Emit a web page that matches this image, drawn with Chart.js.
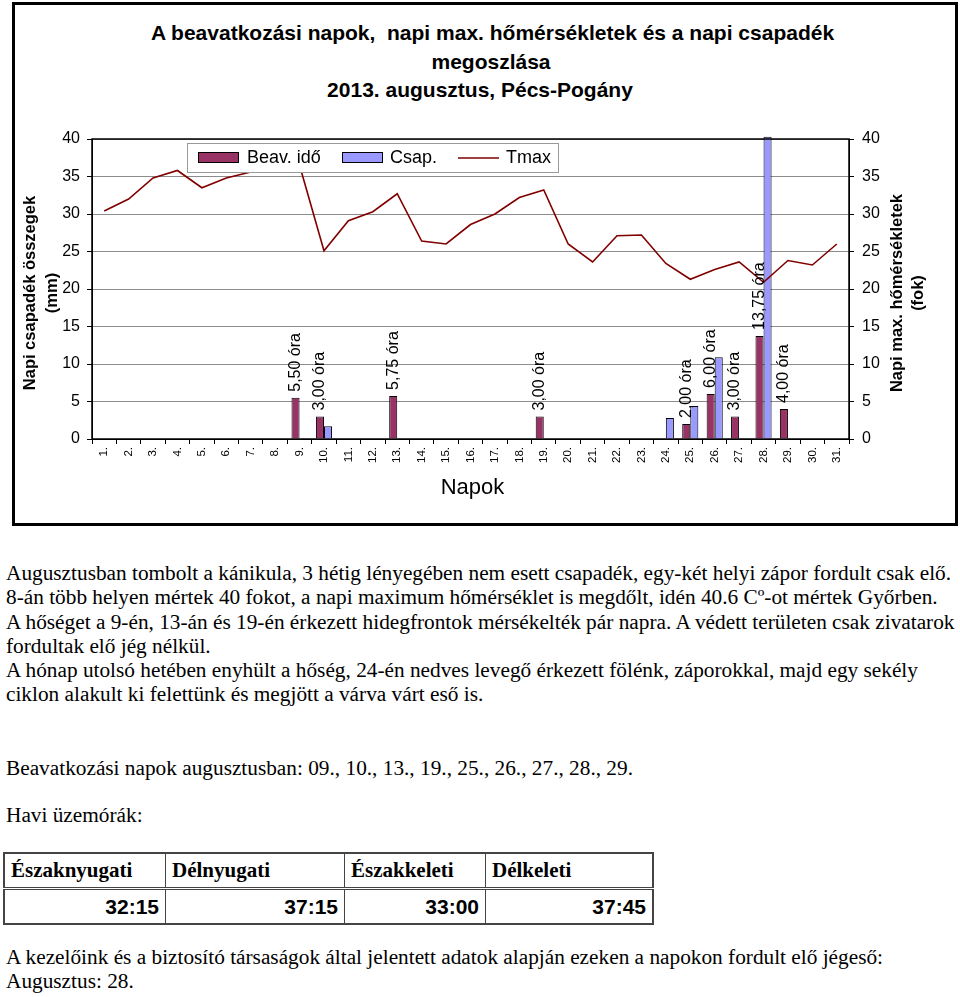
<!DOCTYPE html>
<html>
<head>
<meta charset="utf-8">
<script src="https://cdn.jsdelivr.net/npm/chart.js@4.4.1/dist/chart.umd.min.js"></script>
<style>
  html, body { margin: 0; padding: 0; background: #fff; }
  body { width: 960px; height: 997px; position: relative; overflow: hidden;
         font-family: "Liberation Serif", "Times New Roman", serif; color: #000; }
  #frame { position: absolute; left: 12px; top: 2px; width: 946px; height: 524px;
           box-sizing: border-box; border: 3px solid #000; }
  #chart { position: absolute; left: 15px; top: 5px; }
  .ttl { position: absolute; left: 0; width: 960px; text-align: center; box-sizing: border-box;
         font: bold 21px "Liberation Sans", Arial, sans-serif; line-height: 24px; white-space: nowrap; }
  .txt { position: absolute; left: 6px; font-size: 21.3px; line-height: 24.3px; white-space: nowrap; }
  table { position: absolute; left: 3px; top: 852px; border-collapse: collapse; border: 2px solid #444; }
  td { border: 1px solid #444; padding: 0 6px; }
  tr.h td { height: 33px; font: bold 21px "Liberation Serif", serif; border-bottom: 3px double #444; }
  tr.d td { height: 33px; font: bold 21px "Liberation Sans", Arial, sans-serif; text-align: right; }
</style>
</head>
<body>
<div id="frame"></div>
<div class="ttl" style="top:21px;padding-left:25px">A beavatkozási napok,&nbsp; napi max. hőmérsékletek és a napi csapadék</div>
<div class="ttl" style="top:50px;padding-left:22px">megoszlása</div>
<div class="ttl" style="top:78px;padding-left:0px">2013. augusztus, Pécs-Pogány</div>
<canvas id="chart" width="940" height="517"></canvas>

<div class="txt" style="top:561px">Augusztusban tombolt a kánikula, 3 hétig lényegében nem esett csapadék, egy-két helyi zápor fordult csak elő.<br>8-án több helyen mértek 40 fokot, a napi maximum hőmérséklet is megdőlt, idén 40.6 Cº-ot mértek Győrben.<br>A hőséget a 9-én, 13-án és 19-én érkezett hidegfrontok mérsékelték pár napra. A védett területen csak zivatarok<br>fordultak elő jég nélkül.<br>A hónap utolsó hetében enyhült a hőség, 24-én nedves levegő érkezett fölénk, záporokkal, majd egy sekély<br>ciklon alakult ki felettünk és megjött a várva várt eső is.</div>
<div class="txt" style="top:756px">Beavatkozási napok augusztusban: 09., 10., 13., 19., 25., 26., 27., 28., 29.</div>
<div class="txt" style="top:803px">Havi üzemórák:</div>
<table>
  <tr class="h"><td style="width:148px">Északnyugati</td><td style="width:166px">Délnyugati</td><td style="width:128px">Északkeleti</td><td style="width:154px">Délkeleti</td></tr>
  <tr class="d"><td>32:15</td><td>37:15</td><td>33:00</td><td>37:45</td></tr>
</table>
<div class="txt" style="top:945px">A kezelőink és a biztosító társaságok által jelentett adatok alapján ezeken a napokon fordult elő jégeső:<br>Augusztus: 28.</div>

<script>
// napok, 2013. augusztus
var days = ["1.", "2.", "3.", "4.", "5.", "6.", "7.", "8.", "9.", "10.", "11.", "12.", "13.", "14.", "15.", "16.",
            "17.", "18.", "19.", "20.", "21.", "22.", "23.", "24.", "25.", "26.", "27.", "28.", "29.", "30.", "31."];
// beavatkozási idő (óra)
var beavIdo = [null, null, null, null, null, null, null, null, 5.5, 3.0, null, null, 5.75, null, null, null,
               null, null, 3.0, null, null, null, null, null, 2.0, 6.0, 3.0, 13.75, 4.0, null, null];
// napi csapadék (mm)
var csap = [null, null, null, null, null, null, null, null, null, 1.7, null, null, null, null, null, null,
            null, null, null, null, null, null, null, 2.8, 4.4, 10.9, null, 40.3, null, null, null];
// napi max. hőmérséklet (fok)
var tmax = [30.4, 32.0, 34.8, 35.8, 33.5, 34.8, 35.6, 37.0, 36.5, 25.1, 29.1, 30.3, 32.7, 26.4, 26.0, 28.6,
            30.0, 32.2, 33.2, 26.0, 23.6, 27.1, 27.2, 23.4, 21.3, 22.6, 23.6, 20.9, 23.8, 23.2, 26.0];
var yTicks = [0, 5, 10, 15, 20, 25, 30, 35, 40];

var MAROON = "#993366", BLUE = "#9999ff", LINE = "#800000";
var SANS = "'Liberation Sans', Arial, sans-serif";

// keret, feliratok, jelmagyarázat, tengelycímek
var extras = {
  id: "extras",
  afterDatasetsDraw: function (chart) {
    var ctx = chart.ctx, a = chart.chartArea;
    ctx.save();
    // óra feliratok a beavatkozási oszlopok felett
    ctx.fillStyle = "#000";
    ctx.font = "16px " + SANS;
    ctx.textAlign = "left";
    ctx.textBaseline = "middle";
    chart.getDatasetMeta(1).data.forEach(function (bar, i) {
      if (beavIdo[i] == null) return;
      ctx.save();
      ctx.translate(bar.x, bar.y - 6);
      ctx.rotate(-Math.PI / 2);
      ctx.fillText(beavIdo[i].toFixed(2).replace(".", ",") + " óra", 0, 0);
      ctx.restore();
    });
    // plot keret
    ctx.strokeStyle = "#000";
    ctx.lineWidth = 1.5;
    ctx.strokeRect(a.left, a.top, a.right - a.left, a.bottom - a.top);
    // jelmagyarázat
    var bx = a.left + 95, by = a.top + 4;
    ctx.fillStyle = "#fff";
    ctx.fillRect(bx, by, 371, 29);
    ctx.strokeStyle = "#999";
    ctx.lineWidth = 1;
    ctx.strokeRect(bx + 0.5, by + 0.5, 371, 29);
    ctx.fillStyle = MAROON; ctx.fillRect(bx + 11, by + 9, 41, 11);
    ctx.strokeStyle = "#000"; ctx.strokeRect(bx + 11.5, by + 9.5, 40, 10);
    ctx.fillStyle = BLUE; ctx.fillRect(bx + 155, by + 9, 41, 11);
    ctx.strokeRect(bx + 155.5, by + 9.5, 40, 10);
    ctx.strokeStyle = LINE; ctx.lineWidth = 1.5;
    ctx.beginPath(); ctx.moveTo(bx + 271, by + 15); ctx.lineTo(bx + 312, by + 15); ctx.stroke();
    ctx.fillStyle = "#000";
    ctx.font = "18px " + SANS;
    ctx.fillText("Beav. idő", bx + 60, by + 15);
    ctx.fillText("Csap.", bx + 203, by + 15);
    ctx.fillText("Tmax", bx + 319, by + 15);
    // tengelycímek
    var cy = (a.top + a.bottom) / 2 + 4;
    ctx.font = "bold 16.5px " + SANS;
    ctx.textAlign = "center";
    [[15, "Napi csapadék összegek"], [37, "(mm)"], [882, "Napi max. hőmérsékletek"], [903, "(fok)"]].forEach(function (t) {
      ctx.save();
      ctx.translate(t[0], cy);
      ctx.rotate(-Math.PI / 2);
      ctx.fillText(t[1], 0, 0);
      ctx.restore();
    });
    ctx.font = "22px " + SANS;
    ctx.fillText("Napok", (a.left + a.right) / 2 + 2, a.bottom + 49);
    ctx.restore();
  }
};

var yScale = function (pos) {
  return {
    type: "linear", position: pos, min: 0, max: 40,
    afterBuildTicks: function (s) { s.ticks = yTicks.map(function (v) { return { value: v }; }); },
    afterFit: function (s) { s.width = 60; },
    ticks: { color: "#000", font: { family: SANS, size: 16 }, padding: pos === "left" ? 7 : 8 },
    grid: { color: "#8c8c8c", tickColor: "#000", tickLength: 5, drawOnChartArea: pos === "left" },
    border: { color: "#000" }
  };
};

new Chart(document.getElementById("chart"), {
  type: "bar",
  data: {
    labels: days,
    datasets: [
      { type: "line", label: "Tmax", data: tmax, yAxisID: "y1", order: 0,
        borderColor: LINE, borderWidth: 1.6, pointRadius: 0, tension: 0, fill: false },
      { label: "Beav. idő", data: beavIdo, yAxisID: "y", order: 1,
        backgroundColor: MAROON, borderColor: "#000", borderWidth: 1 },
      { label: "Csap.", data: csap, yAxisID: "y", order: 1, clip: false,
        backgroundColor: BLUE, borderColor: "#000", borderWidth: 1 }
    ]
  },
  options: {
    responsive: false, animation: false,
    layout: { padding: { top: 134, left: 17, right: 46, bottom: 43 } },
    datasets: { bar: { categoryPercentage: 0.66, barPercentage: 1.0 } },
    plugins: { legend: { display: false }, tooltip: { enabled: false }, title: { display: false } },
    scales: {
      x: {
        afterFit: function (s) { s.height = 40; },
        ticks: { color: "#000", font: { family: SANS, size: 11.5 }, minRotation: 90, maxRotation: 90, padding: 3, autoSkip: false },
        grid: { drawOnChartArea: false, tickColor: "#000", tickLength: 5, offset: true },
        border: { color: "#000" }
      },
      y: yScale("left"),
      y1: yScale("right")
    }
  },
  plugins: [extras]
});
</script>
</body>
</html>
